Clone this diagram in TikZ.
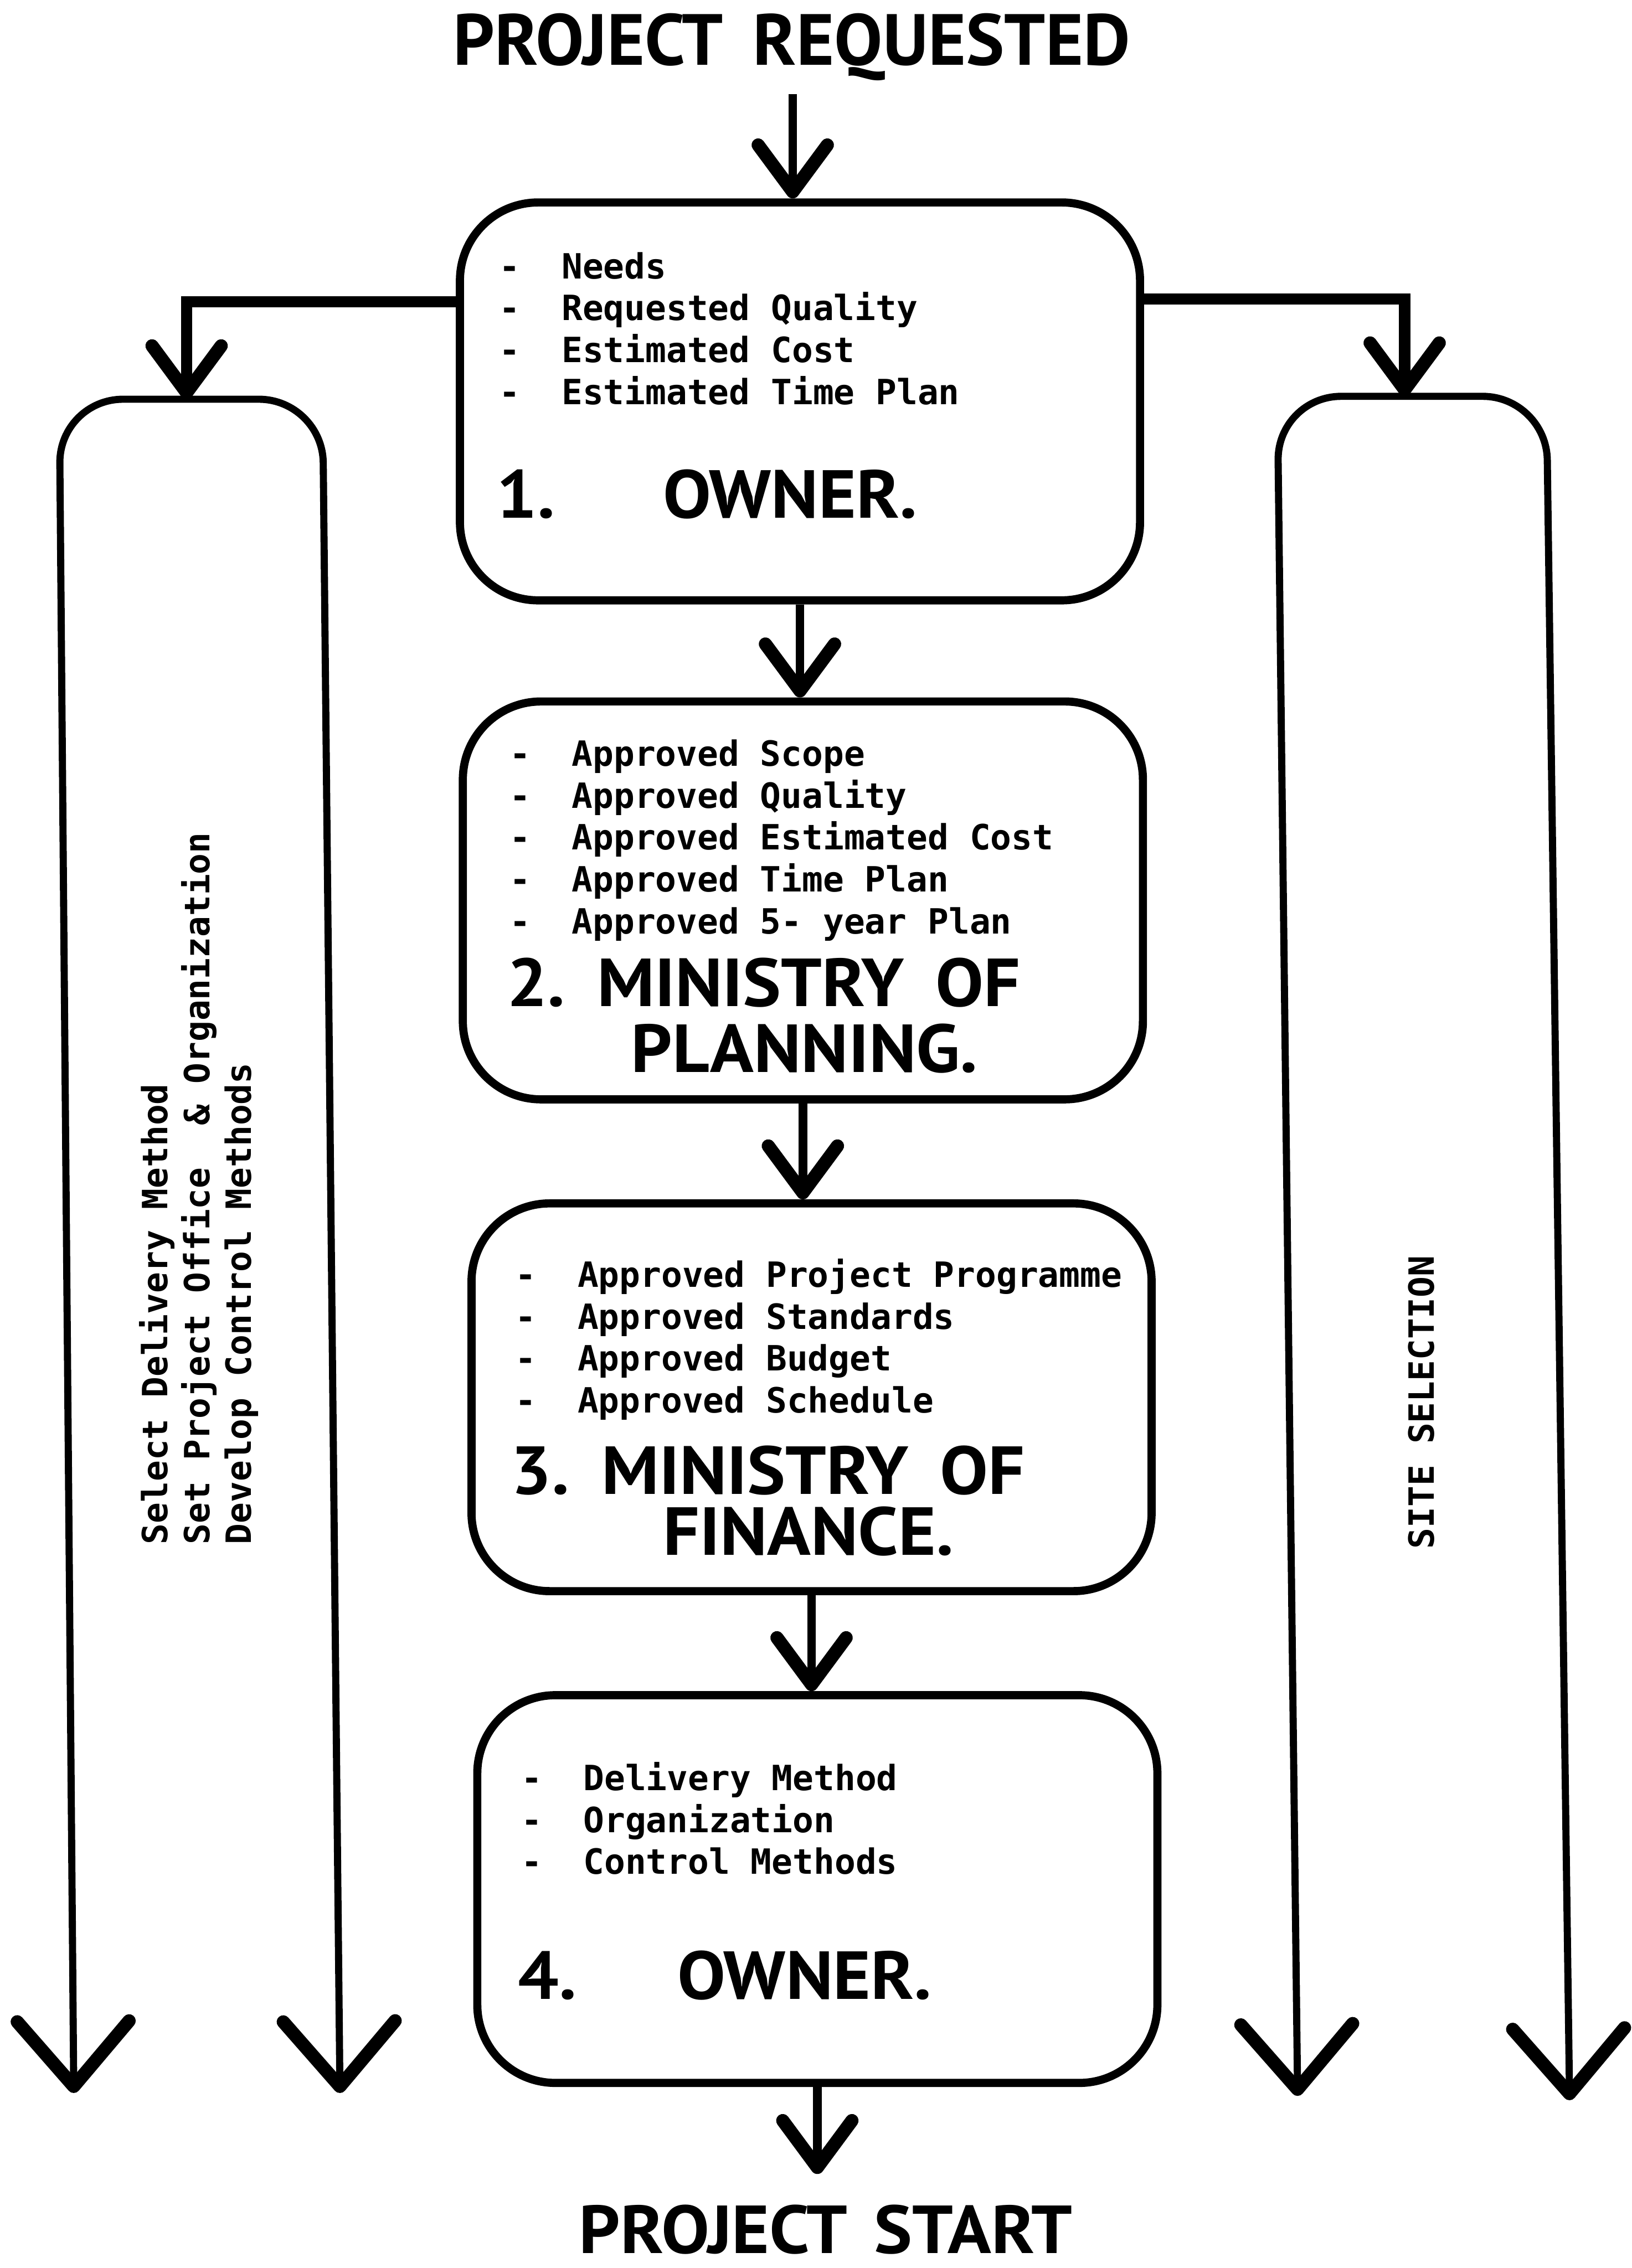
\documentclass[tikz,border=0pt]{standalone}
\usepackage{fontspec}
\setmainfont{PT Sans}
\newfontfamily\stagelistfamily{DejaVu Sans Mono}
\newfontfamily\stageheadfamily[FakeStretch=1.06]{PT Sans}
\usetikzlibrary{arrows.meta}
\newcommand\stagelistfont{\stagelistfamily\bfseries\fontsize{17.1pt}{20.6pt}\selectfont}
\newcommand\stageheadfont{\stageheadfamily\bfseries\fontsize{33.4pt}{30.6pt}\selectfont}
\newcommand\bigheadfont{\fontsize{35.6pt}{42pt}\selectfont\bfseries}
\newcommand\bul[1]{\makebox[1.075cm][l]{-}#1}
\newcommand\wgap{\hspace{0.55cm}}

\begin{document}
\begin{tikzpicture}[x=0.025cm,y=-0.025cm,
  ShortV/.tip={Straight Barb[length=23pt,width=34pt,line width=6.5pt 0,round]},
  LongV/.tip={Straight Barb[length=32pt,width=55pt,line width=6.5pt 0,round]},
  stage/.style={draw,line width=4pt,rounded corners=1.35cm,minimum width=11.75cm,inner sep=0pt},
  flow/.style={line width=4.2pt,-{ShortV}},
  branch/.style={line width=5.5pt,-{ShortV}},
  lane/.style={line width=3.5pt,rounded corners=1.1cm,{LongV}-{LongV}},
  items/.style={font=\stagelistfont,align=left,anchor=north west,inner sep=0pt},
  heading/.style={font=\stageheadfont,anchor=base west,inner sep=0pt},
  heading2/.style={font=\stageheadfont,align=left,anchor=north west,inner sep=0pt},
  side/.style={font=\stagelistfont,align=left,rotate=90,anchor=north west,inner sep=0pt},
]
% page
\fill[white] (0,0) rectangle (1128,1568);
\useasboundingbox (0,0) rectangle (1128,1568);

% start and end labels
\node[font=\bigheadfont,anchor=base west,inner sep=0pt] (req) at (313,45) {PROJECT\hspace{0.2cm} REQUESTED};
\node[heading] (start) at (400,1558) {PROJECT\hspace{0.15cm} START};

% the four stages
\node[stage,minimum height=6.875cm] (own1) at (553,277.5) {};
\node[stage,minimum height=6.875cm] (plan) at (555,622.5) {};
\node[stage,minimum height=6.7cm] (fin) at (561,966) {};
\node[stage,minimum height=6.7cm] (own4) at (565,1306) {};

% stage contents
\node[items] (own1list) at (345,174) {\bul{Needs}\\\bul{Requested Quality}\\\bul{Estimated Cost}\\\bul{Estimated Time Plan}};
\node[heading] (own1num) at (343,358) {1.};
\node[heading] (own1name) at (458,358) {OWNER.};

\node[items] (planlist) at (352,511) {\bul{Approved Scope}\\\bul{Approved Quality}\\\bul{Approved Estimated Cost}\\\bul{Approved Time Plan}\\\bul{Approved 5- year Plan}};
\node[heading2] (planname) at (350,662) {2.\wgap MINISTRY\wgap OF\\[1.7pt]\hspace*{2.15cm}PLANNING.};

\node[items] (finlist) at (356,870) {\bul{Approved Project Programme}\\\bul{Approved Standards}\\\bul{Approved Budget}\\\bul{Approved Schedule}};
\node[heading2] (finname) at (353,999) {3.\wgap MINISTRY\wgap OF\\[-0.4pt]\hspace*{2.625cm}FINANCE.};

\node[items] (own4list) at (360,1218) {\bul{Delivery Method}\\\bul{Organization}\\\bul{Control Methods}};
\node[heading] (own4num) at (358,1382) {4.};
\node[heading] (own4name) at (468,1382) {OWNER.};

% side lanes
\coordinate (laneL) at (129,276);
\coordinate (laneR) at (971,274);
\draw[lane] (51,1447) -- (41,276) -- (223,276) -- (235,1447);
\draw[lane] (897,1449) -- (883,274) -- (1069,274) -- (1085,1452);
\node[side] (methods) at (96,1068) {Select Delivery Method\\Set Project Office~~\& Organization\\Develop Control Methods};
\node[side] (site) at (973,1071) {SITE SELECTION};

% connectors
\coordinate (reqfoot) at (548,65);
\coordinate (startfoot) at (568,1503);
\draw[flow] (reqfoot) -- (reqfoot |- own1.north);
\draw[flow] (own1.south) -- (own1.south |- plan.north);
\draw[flow] (plan.south) -- (plan.south |- fin.north);
\draw[flow] (fin.south) -- (fin.south |- own4.north);
\draw[flow] (own4.south) -- (own4.south |- startfoot);
\draw[branch] ([yshift=1.72cm]own1.west) -| (laneL);
\draw[branch] ([yshift=1.77cm]own1.east) -| (laneR);
\end{tikzpicture}
\end{document}
